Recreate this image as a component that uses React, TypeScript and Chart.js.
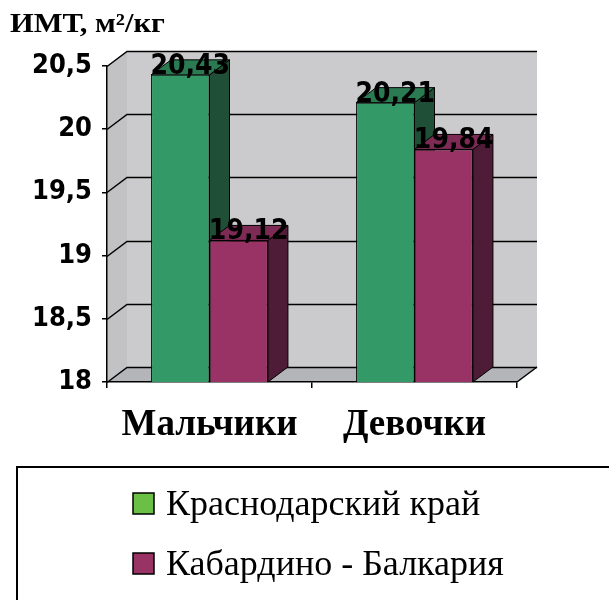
import React, { useEffect, useRef } from "react";
import { Chart, registerables } from "chart.js";

Chart.register(...registerables);

const categories = ["Мальчики", "Девочки"];
const seriesNames = ["Краснодарский край", "Кабардино - Балкария"];
const krasnodar = [20.43, 20.21];
const kbr = [19.12, 19.84];
const yMin = 18;
const yMax = 20.5;
const yStep = 0.5;
const axisTitle = "ИМТ, м²/кг";

const DX = 20;
const DY = 15;

const frontColors = ["#339966", "#993366"];
const topColors = ["#2a7a52", "#7d2a55"];
const sideColors = ["#1f4f36", "#4f1c37"];
const legendColors = ["#6cbf45", "#993366"];

const fmt = (v: number) => String(v).replace(".", ",");

const SANS = '"DejaVu Sans Condensed", "DejaVu Sans", sans-serif';
const SERIF = '"Liberation Serif", "Times New Roman", serif';

const poly = (ctx: CanvasRenderingContext2D, pts: number[][], fill: string, stroke?: string) => {
  ctx.beginPath();
  ctx.moveTo(pts[0][0], pts[0][1]);
  for (let i = 1; i < pts.length; i++) ctx.lineTo(pts[i][0], pts[i][1]);
  ctx.closePath();
  ctx.fillStyle = fill;
  ctx.fill();
  if (stroke) {
    ctx.strokeStyle = stroke;
    ctx.lineWidth = 1;
    ctx.stroke();
  }
};

const walls3d = {
  id: "walls3d",
  beforeDraw(chart: any) {
    const { ctx, chartArea: a, scales } = chart;
    const y = scales.y;
    ctx.save();
    ctx.fillStyle = "#cbcbcd";
    ctx.fillRect(a.left + DX, a.top - DY, a.right - a.left, a.bottom - a.top);
    poly(ctx, [[a.left, a.bottom], [a.left, a.top], [a.left + DX, a.top - DY], [a.left + DX, a.bottom - DY]], "#c2c2c4");
    poly(ctx, [[a.left, a.bottom], [a.right, a.bottom], [a.right + DX, a.bottom - DY], [a.left + DX, a.bottom - DY]], "#b3b5b8");
    ctx.strokeStyle = "#000";
    ctx.lineWidth = 1.5;
    for (let v = yMin; v <= yMax + 1e-9; v += yStep) {
      const py = Math.round(y.getPixelForValue(v)) + 0.5;
      ctx.beginPath();
      ctx.moveTo(a.left, py);
      ctx.lineTo(a.left + DX, py - DY);
      ctx.lineTo(a.right + DX, py - DY);
      ctx.stroke();
    }
    ctx.beginPath();
    ctx.moveTo(a.right, a.bottom);
    ctx.lineTo(a.right + DX, a.bottom - DY);
    ctx.stroke();
    ctx.restore();
  },
  beforeDatasetsDraw(chart: any) {
    const { ctx, chartArea: a } = chart;
    ctx.save();
    const n = chart.data.labels.length;
    for (let j = 0; j < n; j++) {
      for (let i = 0; i < chart.data.datasets.length; i++) {
        const bar: any = chart.getDatasetMeta(i).data[j];
        const x1 = bar.x - bar.width / 2;
        const x2 = bar.x + bar.width / 2;
        const t = bar.y;
        const b = Math.min(bar.base, a.bottom);
        poly(ctx, [[x2, t], [x2 + DX, t - DY], [x2 + DX, b - DY], [x2, b]], sideColors[i], "#000");
        poly(ctx, [[x1, t], [x2, t], [x2 + DX, t - DY], [x1 + DX, t - DY]], topColors[i], "#000");
      }
    }
    ctx.restore();
  },
  afterDatasetsDraw(chart: any) {
    const { ctx } = chart;
    ctx.save();
    ctx.fillStyle = "#000";
    ctx.font = `bold 28px ${SANS}`;
    ctx.textAlign = "center";
    ctx.textBaseline = "alphabetic";
    chart.data.datasets.forEach((ds: any, i: number) => {
      chart.getDatasetMeta(i).data.forEach((bar: any, j: number) => {
        ctx.fillText(fmt(ds.data[j]), bar.x + DX / 2, bar.y - 1);
      });
    });
    ctx.restore();
  },
  afterDraw(chart: any) {
    const { ctx } = chart;
    ctx.save();
    ctx.fillStyle = "#000";
    ctx.font = `bold 27px ${SERIF}`;
    ctx.textAlign = "left";
    ctx.textBaseline = "alphabetic";
    ctx.save();
    ctx.translate(10, 32);
    ctx.scale(1.13, 1);
    ctx.fillText(axisTitle, 0, 0);
    ctx.restore();
    // legend
    ctx.lineWidth = 2;
    ctx.strokeStyle = "#000";
    ctx.strokeRect(17, 467, 700, 200);
    ctx.font = `36px ${SERIF}`;
    const baselines = [515, 575];
    seriesNames.forEach((name, i) => {
      const bl = baselines[i];
      ctx.fillStyle = legendColors[i];
      ctx.fillRect(133, bl - 22, 21, 21);
      ctx.lineWidth = 1.5;
      ctx.strokeRect(133, bl - 22, 21, 21);
      ctx.fillStyle = "#000";
      ctx.fillText(name, 166, bl);
    });
    ctx.restore();
  },
};

export default function App() {
  const ref = useRef<HTMLCanvasElement>(null);
  useEffect(() => {
    const chart = new Chart(ref.current!, {
      type: "bar",
      data: {
        labels: categories,
        datasets: [
          { label: seriesNames[0], data: krasnodar, backgroundColor: frontColors[0], borderColor: "#000", borderWidth: 1 },
          { label: seriesNames[1], data: kbr, backgroundColor: frontColors[1], borderColor: "#000", borderWidth: 1 },
        ],
      },
      options: {
        animation: false,
        responsive: false,
        devicePixelRatio: 1,
        layout: { padding: { left: 0, top: 66, right: 92, bottom: 148 } },
        datasets: { bar: { categoryPercentage: 0.57, barPercentage: 1.0 } },
        plugins: { legend: { display: false }, tooltip: { enabled: false } },
        scales: {
          x: {
            offset: true,
            grid: { offset: true, drawOnChartArea: false, drawTicks: true, tickLength: 6, color: "#000", lineWidth: 1.5 },
            border: { display: true, color: "#000", width: 1.5 },
            ticks: { color: "#000", font: { family: SERIF, size: 37, weight: "bold" }, padding: 15, maxRotation: 0 },
            afterFit: (s: any) => { s.height = 70; },
          },
          y: {
            min: yMin,
            max: yMax,
            grid: { drawOnChartArea: false, drawTicks: true, tickLength: 5, color: "#000", lineWidth: 1.5 },
            border: { display: true, color: "#000", width: 1.5 },
            ticks: { stepSize: yStep, color: "#000", font: { family: SANS, size: 27, weight: "bold" }, padding: 10, callback: (v: any) => fmt(Number(v)) },
            afterFit: (s: any) => { s.width = 107; },
          },
        },
      },
      plugins: [walls3d],
    });
    return () => chart.destroy();
  }, []);
  return (
    <div style={{ position: "fixed", left: 0, top: 0, width: 609, height: 600, background: "#fff" }}>
      <canvas ref={ref} width={609} height={600} style={{ display: "block", width: 609, height: 600 }} />
    </div>
  );
}
